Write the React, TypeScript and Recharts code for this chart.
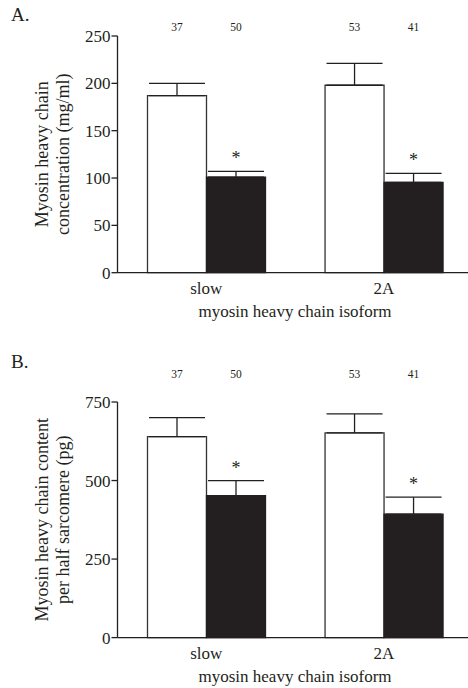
import React from 'react';
import { BarChart, Bar, XAxis, YAxis, ErrorBar, LabelList, Label } from 'recharts';

const categories = ['slow', '2A'];
const concControl = [187, 198];
const concControlErr = [13, 23];
const concPatient = [101, 95.5];
const concPatientErr = [6, 9.5];
const contentControl = [640, 652];
const contentControlErr = [60, 60];
const contentPatient = [452, 393];
const contentPatientErr = [48, 54];
const nControl = [37, 53];
const nPatient = [50, 41];
const sigPatient = ['*', '*'];
const concTicks = [0, 50, 100, 150, 200, 250];
const contentTicks = [0, 250, 500, 750];

const FONT = '"Liberation Serif", "DejaVu Serif", serif';
const INK = '#231f20';

const buildRows = (c: number[], ce: number[], p: number[], pe: number[]) =>
  categories.map((cat, i) => ({
    cat,
    control: c[i],
    controlErr: [0, ce[i]],
    controlErrUp: ce[i],
    patient: p[i],
    patientErr: [0, pe[i]],
    patientErrUp: pe[i],
    nC: nControl[i],
    nP: nPatient[i],
    sig: sigPatient[i],
  }));

const concRows = buildRows(concControl, concControlErr, concPatient, concPatientErr);
const contentRows = buildRows(contentControl, contentControlErr, contentPatient, contentPatientErr);

const topNumber = (yPos: number) => (props: any) => {
  const { x, width, value } = props;
  return (
    <text x={x + width / 2} y={yPos} textAnchor="middle" dominantBaseline="central" fontFamily={FONT} fontSize={11.5} fill={INK}>
      {value}
    </text>
  );
};

const starLabel = (rows: any[]) => (props: any) => {
  const { x, y, width, height, index } = props;
  const row = rows[index];
  const pxPerUnit = height / row.patient;
  const errTop = y - row.patientErrUp * pxPerUnit;
  return (
    <text x={x + width / 2} y={errTop - 13} textAnchor="middle" dominantBaseline="central" fontFamily={FONT} fontSize={18} fill={INK}>
      {row.sig}
    </text>
  );
};

const yTitle = (line1: string, line2: string) => (props: any) => {
  const { viewBox } = props;
  const cy = viewBox.y + viewBox.height / 2;
  return (
    <g>
      <text x={41.7} y={cy} transform={`rotate(-90, 41.7, ${cy})`} textAnchor="middle" dominantBaseline="central" fontFamily={FONT} fontSize={18} fill={INK}>
        {line1}
      </text>
      <text x={63.3} y={cy} transform={`rotate(-90, 63.3, ${cy})`} textAnchor="middle" dominantBaseline="central" fontFamily={FONT} fontSize={18} fill={INK}>
        {line2}
      </text>
    </g>
  );
};

const xTitle = (text: string) => (props: any) => {
  const { viewBox } = props;
  const cx = viewBox.x + viewBox.width / 2;
  return (
    <text x={cx} y={viewBox.y + 39} textAnchor="middle" dominantBaseline="central" fontFamily={FONT} fontSize={17} fill={INK}>
      {text}
    </text>
  );
};

const Panel = ({ rows, ticks, max, line1, line2, numY, margin }: any) => (
  <BarChart
    width={480}
    height={344}
    data={rows}
    margin={margin}
    barGap={0}
    barSize={59}
    style={{ fontFamily: FONT }}
  >
    <XAxis
      dataKey="cat"
      tickLine={false}
      axisLine={{ stroke: INK, strokeWidth: 1.3 }}
      tick={{ fill: INK, fontSize: 17, fontFamily: FONT }}
      tickMargin={3}
      height={40}
    >
      <Label content={xTitle('myosin heavy chain isoform')} />
    </XAxis>
    <YAxis
      width={60}
      domain={[0, max]}
      ticks={ticks}
      interval={0}
      tickSize={6}
      tickMargin={1}
      axisLine={{ stroke: INK, strokeWidth: 1.3 }}
      tickLine={{ stroke: INK, strokeWidth: 1.3 }}
      tick={{ fill: INK, fontSize: 17, fontFamily: FONT }}
    >
      <Label content={yTitle(line1, line2)} />
    </YAxis>
    <Bar dataKey="control" fill="#ffffff" stroke="#333333" strokeWidth={1.3} isAnimationActive={false}>
      <ErrorBar dataKey="controlErr" width={28} stroke={INK} strokeWidth={1.3} direction="y" />
      <LabelList dataKey="nC" content={topNumber(numY)} />
    </Bar>
    <Bar dataKey="patient" fill={INK} stroke={INK} strokeWidth={1.3} isAnimationActive={false}>
      <ErrorBar dataKey="patientErr" width={28} stroke={INK} strokeWidth={1.3} direction="y" />
      <LabelList dataKey="nP" content={topNumber(numY)} />
      <LabelList dataKey="sig" content={starLabel(rows)} />
    </Bar>
  </BarChart>
);

export default function App() {
  return (
    <div style={{ position: 'absolute', left: 0, top: 0, width: 468, height: 688, overflow: 'hidden', background: '#fff' }}>
      <div style={{ position: 'absolute', left: 0, top: 0 }}>
        <Panel rows={concRows} ticks={concTicks} max={250} line1="Myosin heavy chain" line2="concentration (mg/ml)" numY={27} margin={{ top: 36, right: 7.4, bottom: 31.3, left: 57.5 }} />
      </div>
      <div style={{ position: 'absolute', left: 0, top: 365.7 }}>
        <Panel rows={contentRows} ticks={contentTicks} max={750} line1="Myosin heavy chain content" line2="per half sarcomere (pg)" numY={7.6} margin={{ top: 36, right: 7.4, bottom: 32.4, left: 57.5 }} />
      </div>
      <div style={{ position: 'absolute', left: 11, top: 4, fontFamily: FONT, fontSize: 19, lineHeight: '22px', color: INK }}>A.</div>
      <div style={{ position: 'absolute', left: 11, top: 350.7, fontFamily: FONT, fontSize: 19, lineHeight: '22px', color: INK }}>B.</div>
    </div>
  );
}
